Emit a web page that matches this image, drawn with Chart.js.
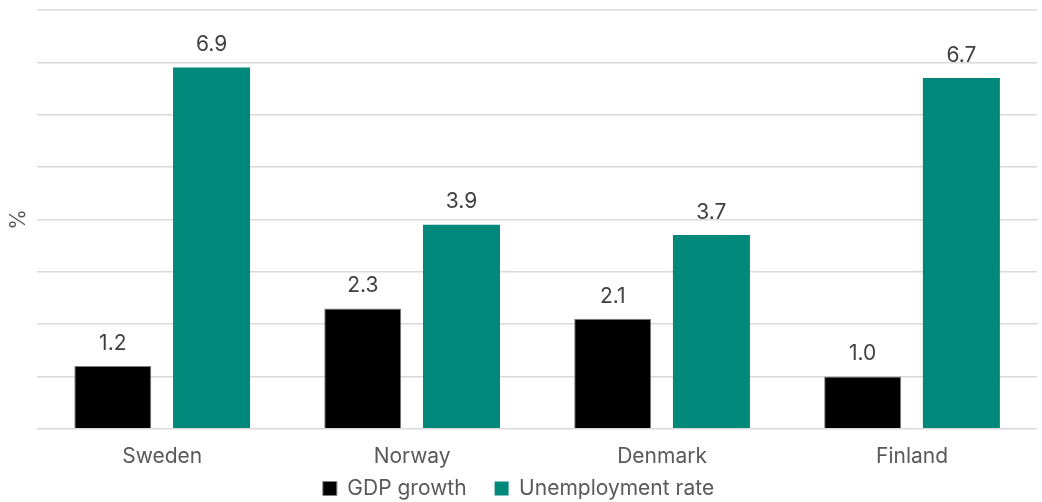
<!DOCTYPE html>
<html>
<head>
<meta charset="utf-8">
<script src="https://cdn.jsdelivr.net/npm/chart.js@4"></script>
<style>
  html, body { margin: 0; padding: 0; background: #fff; }
  #wrap { width: 1042px; height: 502px; position: relative; }
</style>
</head>
<body>
<div id="wrap"><canvas id="chart"></canvas></div>
<script>
const CATEGORIES = ['Sweden', 'Norway', 'Denmark', 'Finland'];
const GDP_GROWTH = [1.2, 2.3, 2.1, 1.0];
const UNEMPLOYMENT = [6.9, 3.9, 3.7, 6.7];
const SERIES_NAMES = ['GDP growth', 'Unemployment rate'];

const COLORS = {
    gdp: '#000000',
    unemp: '#00897b',
    grid: '#d9d9d9',
    label: '#404040',
    tick: '#595959',
};

const FONT = 'Inter, Roboto, sans-serif';
const FONT_SIZE = 21;

// Value labels above each bar, one decimal like the source.
const valueLabels = {
    id: 'valueLabels',
    afterDatasetsDraw(chart) {
        const { ctx } = chart;
        ctx.save();
        ctx.font = `${FONT_SIZE}px ${FONT}`;
        ctx.fillStyle = COLORS.label;
        ctx.textAlign = 'center';
        ctx.textBaseline = 'bottom';
        chart.data.datasets.forEach((ds, i) => {
            chart.getDatasetMeta(i).data.forEach((bar, j) => {
                ctx.fillText(ds.data[j].toFixed(1), bar.x, bar.y - 12);
            });
        });
        ctx.restore();
    },
};

// Legend sits closer to the axis labels than Chart.js lays it out:
// shrink its box so the plot grows, then draw it higher. The legend clips
// to its own box, so the box is moved and stretched while drawing.
const LEGEND_SHRINK = 33;
const LEGEND_SHIFT = 26;
const tightLegend = {
    id: 'tightLegend',
    beforeInit(chart) {
        const legend = chart.legend;
        const fit = legend.fit;
        legend.fit = function () {
            fit.call(this);
            this.height -= LEGEND_SHRINK;
        };
        const draw = legend.draw;
        legend.draw = function () {
            const { top, height } = this;
            this.top = top - LEGEND_SHIFT;
            this.height = height + LEGEND_SHIFT;
            this.bottom = this.top + this.height;
            draw.call(this);
            this.top = top;
            this.height = height;
            this.bottom = top + height;
        };
    },
};

new Chart(document.getElementById('chart'), {
    type: 'bar',
    data: {
        labels: CATEGORIES,
        datasets: [
            {
                label: SERIES_NAMES[0],
                data: GDP_GROWTH,
                backgroundColor: COLORS.gdp,
                borderColor: '#7f7f7f',
                borderWidth: 1,
                categoryPercentage: 0.79,
                barPercentage: 0.78,
            },
            {
                label: SERIES_NAMES[1],
                data: UNEMPLOYMENT,
                backgroundColor: COLORS.unemp,
                borderColor: COLORS.unemp,
                borderWidth: 0,
                categoryPercentage: 0.79,
                barPercentage: 0.78,
            },
        ],
    },
    options: {
        responsive: true,
        maintainAspectRatio: false,
        animation: false,
        layout: { padding: { top: 10, right: 5, bottom: 0, left: 0 } },
        plugins: {
            tooltip: { enabled: false },
            legend: {
                position: 'bottom',
                labels: {
                    font: { family: FONT, size: FONT_SIZE },
                    color: COLORS.tick,
                    boxWidth: 14,
                    boxHeight: 14,
                    padding: 28,
                },
            },
        },
        scales: {
            x: {
                grid: { display: false },
                border: { display: false },
                ticks: { font: { family: FONT, size: FONT_SIZE }, color: COLORS.tick, padding: 7 },
            },
            y: {
                min: 0,
                max: 8,
                ticks: { stepSize: 1, display: false },
                grid: { color: COLORS.grid, lineWidth: 1.5, drawTicks: false },
                border: { display: false },
                title: {
                    display: true,
                    text: '%',
                    font: { family: FONT, size: FONT_SIZE },
                    color: COLORS.tick,
                    padding: { top: 6, bottom: 6 },
                },
            },
        },
    },
    plugins: [valueLabels, tightLegend],
});
</script>
</body>
</html>
